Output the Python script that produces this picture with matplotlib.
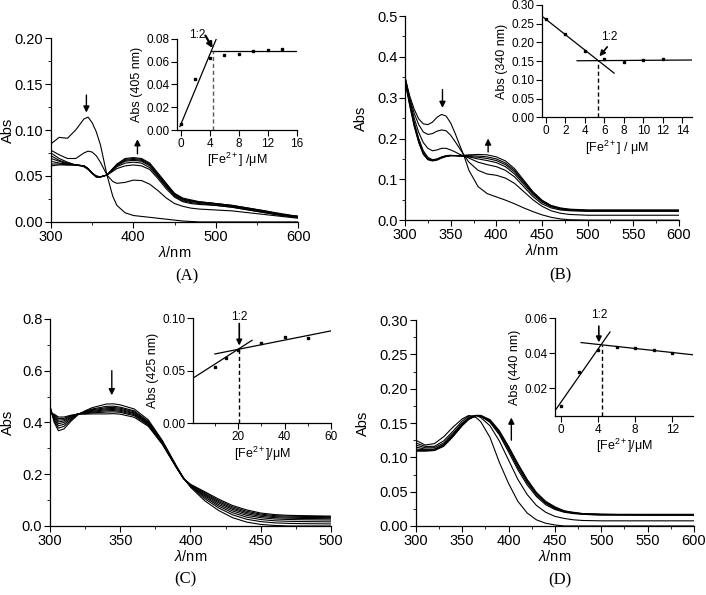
import matplotlib
matplotlib.use('Agg')
import matplotlib.pyplot as plt
from matplotlib.ticker import MultipleLocator, FormatStrFormatter

plt.rcParams['font.family'] = ['Liberation Sans', 'DejaVu Sans']
plt.rcParams['mathtext.fontset'] = 'custom'
plt.rcParams['mathtext.rm'] = 'Liberation Sans'
plt.rcParams['mathtext.it'] = 'Liberation Sans:italic'
plt.rcParams['axes.linewidth'] = 0.9

# ---- (A) spectra ----
wl_a = [300, 310, 320, 330, 340, 345, 350, 355, 360, 368, 375, 380, 390, 400, 410, 420, 430, 440, 450, 460,
        470, 480, 500, 520, 540, 560, 580, 600]
spec_a = [
    [.085, .092, .091, .100, .112, .114, .108, .098, .084, .051, .028, .018, .010, .007, .006, .005, .004, .003, .002, .001,
     .0005, 0, 0, 0, 0, 0, 0, 0],
    [.078, .073, .069, .069, .075, .077, .076, .072, .065, .051, .044, .042, .043, .0455, .045, .041, .034, .026, .020, .017,
     .015, .014, .013, .012, .010, .008, .006, .004],
    [.075, .069, .065, .062, .060, .057, .053, .050, .049, .051, .055, .058, .061, .062, .061, .057, .047, .036, .027, .022,
     .020, .019, .018, .016, .013, .010, .007, .005],
    [.072, .067, .064, .062, .061, .058, .053, .050, .049, .051, .056, .060, .064, .065, .064, .059, .049, .038, .028, .023,
     .021, .020, .018, .016, .013, .010, .007, .005],
    [.069, .066, .063, .062, .061, .058, .053, .049, .049, .051, .057, .061, .066, .067, .066, .061, .050, .039, .029, .024,
     .022, .021, .019, .017, .014, .011, .008, .006],
    [.066, .064, .063, .062, .061, .058, .053, .049, .049, .051, .057, .062, .067, .068, .067, .062, .051, .040, .030, .025,
     .023, .021, .020, .017, .014, .011, .008, .006],
    [.063, .063, .062, .062, .061, .058, .053, .049, .049, .051, .058, .062, .068, .069, .068, .063, .052, .041, .031, .025,
     .023, .022, .020, .018, .015, .012, .008, .006],
    [.061, .062, .062, .062, .061, .058, .053, .049, .049, .051, .058, .063, .069, .070, .069, .064, .053, .042, .031, .026,
     .024, .022, .020, .018, .015, .012, .009, .006],
]

# ---- (B) spectra ----
wl_b = [300, 305, 310, 315, 320, 325, 330, 335, 340, 345, 350, 355, 360, 365, 370, 380, 390, 400, 410, 420,
        430, 440, 450, 460, 470, 480, 500, 550, 600]
spec_b = [
    [.350, .305, .272, .248, .236, .234, .240, .252, .259, .255, .238, .212, .183, .155, .122, .082, .065, .057, .049, .040,
     .030, .021, .013, .007, .003, .001, 0, 0, 0],
    [.350, .300, .262, .234, .216, .210, .212, .218, .221, .219, .208, .192, .175, .158, .142, .122, .113, .110, .103, .090,
     .070, .050, .034, .023, .017, .014, .012, .012, .012],
    [.350, .295, .250, .215, .190, .176, .170, .172, .176, .176, .172, .167, .161, .157, .152, .142, .136, .131, .122, .106,
     .082, .058, .040, .030, .025, .023, .022, .022, .022],
    [.345, .290, .240, .200, .170, .154, .148, .150, .155, .158, .159, .158, .157, .156, .155, .150, .146, .141, .131, .113,
     .088, .063, .044, .033, .027, .024, .022, .022, .022],
    [.345, .288, .236, .195, .166, .151, .147, .149, .154, .157, .158, .158, .157, .157, .156, .154, .151, .146, .136, .118,
     .092, .066, .046, .034, .028, .025, .023, .023, .023],
    [.342, .285, .233, .192, .163, .149, .146, .148, .153, .156, .158, .158, .158, .158, .158, .157, .155, .150, .140, .122,
     .095, .068, .048, .035, .029, .026, .024, .024, .024],
    [.340, .282, .230, .190, .161, .148, .145, .147, .152, .156, .158, .158, .158, .159, .160, .161, .160, .155, .145, .126,
     .098, .070, .049, .036, .030, .027, .025, .025, .025],
]

# ---- (C) spectra ----
wl_c = [300, 303, 306, 310, 315, 320, 325, 330, 340, 345, 350, 360, 370, 380, 390, 395, 400, 410, 420, 430,
        440, 450, 460, 470, 480, 500]
spec_c = [
    [.465, .400, .368, .375, .405, .430, .445, .457, .471, .472, .468, .452, .410, .330, .232, .186, .150, .098, .060, .032,
     .015, .006, .002, 0, 0, 0],
    [.460, .406, .378, .385, .410, .431, .443, .452, .462, .463, .459, .445, .404, .327, .230, .186, .153, .106, .070, .043,
     .026, .017, .012, .010, .009, .008],
    [.455, .412, .387, .393, .414, .432, .441, .449, .457, .458, .455, .441, .401, .325, .229, .185, .155, .112, .077, .051,
     .034, .025, .020, .018, .017, .016],
    [.450, .418, .395, .400, .418, .433, .440, .446, .453, .454, .451, .437, .398, .323, .228, .185, .157, .117, .083, .058,
     .041, .032, .027, .025, .024, .023],
    [.446, .423, .402, .406, .421, .433, .438, .443, .449, .450, .447, .434, .395, .321, .227, .184, .158, .121, .089, .064,
     .047, .037, .032, .030, .029, .028],
    [.442, .427, .409, .411, .424, .433, .436, .440, .445, .446, .443, .430, .392, .319, .227, .184, .159, .125, .094, .069,
     .052, .042, .036, .034, .033, .032],
    [.438, .430, .415, .416, .426, .433, .434, .437, .440, .441, .439, .426, .389, .317, .226, .183, .160, .129, .099, .074,
     .057, .046, .040, .038, .037, .036],
    [.434, .432, .421, .421, .428, .432, .432, .433, .433, .434, .432, .420, .385, .315, .225, .183, .161, .133, .104, .079,
     .062, .050, .044, .041, .040, .038],
]

# ---- (D) spectra ----
wl_d = [300, 310, 320, 330, 340, 350, 357, 365, 370, 380, 390, 400, 410, 420, 430, 440, 450, 460, 470, 480,
        500, 550, 600]
spec_d = [
    [.125, .118, .120, .130, .144, .156, .161, .158, .152, .129, .093, .062, .036, .019, .009, .004, .0015, 0, 0, 0, 0, 0, 0],
    [.121, .116, .116, .124, .138, .153, .160, .161, .158, .146, .124, .096, .068, .046, .030, .020, .014, .011, .009, .008,
     .0075, .0075, .0075],
    [.118, .114, .114, .121, .135, .150, .158, .161, .160, .151, .133, .108, .082, .060, .043, .031, .024, .020, .018, .017,
     .016, .016, .016],
    [.115, .112, .112, .119, .133, .149, .157, .161, .160, .152, .135, .111, .085, .063, .045, .033, .025, .021, .019, .017,
     .016, .016, .016],
    [.112, .111, .111, .118, .132, .148, .156, .161, .161, .153, .137, .113, .088, .065, .047, .034, .026, .021, .019, .018,
     .017, .016, .016],
    [.110, .110, .110, .117, .131, .147, .156, .161, .161, .154, .138, .115, .090, .067, .048, .035, .027, .022, .019, .018,
     .017, .016, .016],
    [.109, .109, .110, .116, .130, .146, .155, .161, .161, .155, .139, .116, .091, .068, .049, .036, .028, .022, .020, .018,
     .017, .017, .017],
]

# ---- titration insets ----
fe_a = [0, 2, 4, 6, 8, 10, 12, 14]
abs_a = [0.005, 0.045, 0.063, 0.066, 0.067, 0.069, 0.070, 0.071]
fit_a = [([-0.1, 4.9], [0.003, 0.080]), ([4.2, 16], [0.069, 0.069])]
cross_a = (4.4, 0.069)

fe_b = [0, 2, 4, 6, 8, 10, 12]
abs_b = [0.262, 0.222, 0.177, 0.155, 0.149, 0.152, 0.155]
fit_b = [([-0.4, 7.0], [0.270, 0.118]), ([3.2, 15], [0.151, 0.153])]
cross_b = (5.3, 0.151)

fe_c = [10, 15, 20, 30, 40, 50]
abs_c = [0.054, 0.062, 0.070, 0.076, 0.082, 0.081]
fit_c = [([0.6, 26], [0.043, 0.079]), ([10, 60], [0.066, 0.088])]
cross_c = (20.5, 0.070)

fe_d = [0, 2, 4, 6, 8, 10, 12]
abs_d = [0.010, 0.029, 0.042, 0.0435, 0.043, 0.042, 0.040]
fit_d = [([-0.5, 5.3], [0.0078, 0.0522]), ([2.2, 14.2], [0.0461, 0.0391])]
cross_d = (4.4, 0.0448)


def style(ax, xlim, ylim, xmaj, ymaj, yfmt, fs, xmin=None, ymin=None):
    ax.set_xlim(*xlim)
    ax.set_ylim(*ylim)
    ax.spines['top'].set_visible(False)
    ax.spines['right'].set_visible(False)
    ax.xaxis.set_major_locator(MultipleLocator(xmaj))
    ax.yaxis.set_major_locator(MultipleLocator(ymaj))
    if xmin:
        ax.xaxis.set_minor_locator(MultipleLocator(xmin))
    if ymin:
        ax.yaxis.set_minor_locator(MultipleLocator(ymin))
    ax.yaxis.set_major_formatter(FormatStrFormatter(yfmt))
    ax.tick_params(direction='out', labelsize=fs, length=4, width=0.8, pad=1.5)
    ax.tick_params(which='minor', direction='out', length=2, width=0.6)
    ax.patch.set_alpha(0)


def arrow(ax, tail, tip, lw=1.0, ms=9):
    ax.annotate('', xy=tip, xytext=tail,
                arrowprops=dict(arrowstyle='-|>', color='k', lw=lw, mutation_scale=ms,
                                shrinkA=0, shrinkB=0))


def spectra(rect, wl, spec, xlim, ylim, xmaj, xmin, ymaj, ymin, yfmt, ylab_x):
    ax = fig.add_axes(rect)
    for s in spec:
        ax.plot(wl, s, color='k', lw=0.8)
    style(ax, xlim, ylim, xmaj, ymaj, yfmt, 10.5, xmin, ymin)
    ax.set_xlabel(r'$\lambda$/nm', fontsize=10.5, labelpad=1)
    ax.set_ylabel('Abs', fontsize=10.5)
    ax.yaxis.set_label_coords(ylab_x, 0.5)
    return ax


def inset(rect, fe, ab, fits, cross, xlim, ylim, xmaj, ymaj, ylab, xlab, dash_color='k', ms=2.0):
    ax = fig.add_axes(rect)
    ax.plot(fe, ab, 's', color='k', ms=ms)
    for fx, fy in fits:
        ax.plot(fx, fy, color='k', lw=0.9)
    ax.plot([cross[0], cross[0]], [ylim[0], cross[1]], '--', color=dash_color, lw=1.0, dashes=(3, 2))
    style(ax, xlim, ylim, xmaj, ymaj, '%.2f', 8.5)
    ax.set_ylabel(ylab, fontsize=9, labelpad=2)
    ax.set_xlabel(xlab, fontsize=9, labelpad=1)
    return ax


fig = plt.figure(figsize=(7.06, 5.95), dpi=100)

# (A)
ax = spectra([0.0722, 0.627, 0.350, 0.309], wl_a, spec_a, (300, 600), (0, 0.2), 100, 50, 0.05, 0.025, '%.2f', -0.146)
arrow(ax, (343, 0.138), (343, 0.119))
arrow(ax, (405, 0.074), (405, 0.090))
ins = inset([0.2507, 0.7815, 0.170, 0.153], fe_a, abs_a, fit_a, cross_a, (-0.5, 16), (0, 0.08), 4, 0.02,
            'Abs (405 nm)', '[Fe$^{2+}$] /μM', dash_color='0.35')
ins.text(2.3, 0.0835, '1:2', fontsize=8.5, ha='center', va='center')
arrow(ins, (3.4, 0.083), (4.4, 0.072), lw=1.6, ms=8)

# (B)
ax = spectra([0.5737, 0.630, 0.388, 0.343], wl_b, spec_b, (300, 600), (0, 0.5), 50, 25, 0.1, 0.05, '%.1f', -0.135)
arrow(ax, (341, 0.32), (341, 0.275))
arrow(ax, (391, 0.167), (391, 0.200))
ins = inset([0.7677, 0.8029, 0.2125, 0.1887], fe_b, abs_b, fit_b, cross_b, (-0.4, 15), (0, 0.30), 2, 0.05,
            'Abs (340 nm)', '[Fe$^{2+}$] / μM', ms=1.5)
ins.text(6.5, 0.214, '1:2', fontsize=8.5, ha='center', va='center')
arrow(ins, (6.3, 0.188), (5.5, 0.163), lw=1.2, ms=8)

# (C)
ax = spectra([0.0708, 0.116, 0.398, 0.348], wl_c, spec_c, (300, 500), (0, 0.8), 50, 25, 0.2, 0.1, '%.1f', -0.126)
arrow(ax, (344, 0.60), (344, 0.505))
ins = inset([0.2734, 0.2886, 0.1955, 0.1765], fe_c, abs_c, fit_c, cross_c, (0.6, 60), (0, 0.10), 20, 0.05,
            'Abs (425 nm)', '[Fe$^{2+}$]/μM')
ins.xaxis.set_minor_locator(MultipleLocator(10))
ins.tick_params(which='minor', direction='out', length=2)
ins.text(20.5, 0.101, '1:2', fontsize=8.5, ha='center', va='center')
arrow(ins, (20.5, 0.095), (20.5, 0.074), lw=1.2, ms=8)

# (D)
ax = spectra([0.589, 0.116, 0.394, 0.346], wl_d, spec_d, (300, 600), (0, 0.30), 50, 25, 0.05, 0.025, '%.2f', -0.165)
arrow(ax, (403, 0.125), (403, 0.158))
ins = inset([0.7861, 0.3008, 0.1955, 0.1642], fe_d, abs_d, fit_d, cross_d, (-0.6, 14.2), (0.004, 0.06), 4, 0.02,
            'Abs (440 nm)', '[Fe$^{2+}$]/μM')
ins.text(4.1, 0.062, '1:2', fontsize=8.5, ha='center', va='center')
arrow(ins, (4.1, 0.0555), (4.1, 0.0462), lw=1.2, ms=8)

# panel letters
for x, y, lab in [(187, 276, '(A)'), (560, 275, '(B)'), (185, 579, '(C)'), (560, 580, '(D)')]:
    fig.text(x / 706, 1 - y / 595, lab, ha='center', va='center', family='Liberation Serif', fontsize=12)

fig.savefig('out.png', dpi=100)
